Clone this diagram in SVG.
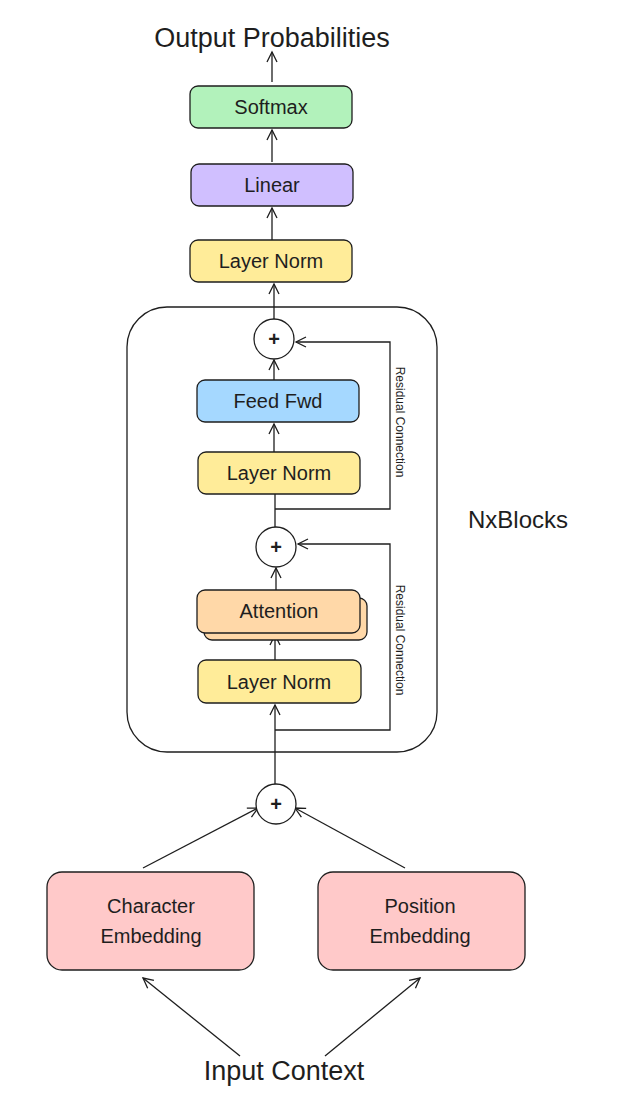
<svg xmlns="http://www.w3.org/2000/svg" width="627" height="1118" viewBox="0 0 627 1118">
<style>
.n{stroke:#1e1e1e;stroke-width:1.3}
.t{font-family:"Liberation Sans",sans-serif;font-size:20px;fill:#1e1e1e;text-anchor:middle;dominant-baseline:central}
.big{font-size:27px}
.mid{font-size:24px}
.c{stroke:#1e1e1e;stroke-width:1.3;fill:none}
.a{marker-end:url(#ah)}
.s{font-family:"Liberation Sans",sans-serif;font-size:12px;fill:#1e1e1e;text-anchor:middle;dominant-baseline:central}
</style>
<defs><marker id="ah" markerWidth="14" markerHeight="14" refX="11" refY="7" orient="auto" markerUnits="userSpaceOnUse"><path d="M1,2 L11,7 L1,12" fill="none" stroke="#1e1e1e" stroke-width="1.3"/></marker></defs>
<rect width="627" height="1118" fill="#fff"/>
<g id="container"><rect x="127" y="307" width="310" height="445" rx="40" fill="none" class="n"/></g>
<g id="connectors">
<line class="c a" x1="272" y1="82" x2="272" y2="52"/>
<line class="c a" x1="272" y1="162" x2="272" y2="130"/>
<line class="c a" x1="272" y1="240" x2="272" y2="208"/>
<line class="c a" x1="274" y1="319" x2="274" y2="284"/>
<line class="c a" x1="274" y1="380" x2="274" y2="360"/>
<line class="c a" x1="274" y1="452" x2="274" y2="424"/>
<line class="c" x1="275" y1="494" x2="275" y2="527"/>
<polyline class="c a" points="275,509 390,509 390,342 296,342"/>
<line class="c a" x1="276" y1="590" x2="276" y2="568"/>
<line class="c a" x1="275" y1="660" x2="275" y2="635"/>
<line class="c a" x1="275" y1="784" x2="275" y2="705"/>
<polyline class="c a" points="275,730 390,730 390,544 298,544"/>
<line class="c a" x1="143" y1="868" x2="258" y2="808"/>
<line class="c a" x1="405" y1="868" x2="295" y2="808"/>
<line class="c a" x1="240" y1="1056" x2="143" y2="978"/>
<line class="c a" x1="325" y1="1056" x2="420" y2="978"/>
</g>
<g id="title"><text class="t big" x="272" y="38">Output Probabilities</text></g>
<g id="softmax"><rect class="n" x="190" y="86" width="162" height="42" rx="8" fill="#b2f2bb"/><text class="t" x="271" y="107">Softmax</text></g>
<g id="linear"><rect class="n" x="191" y="164" width="162" height="42" rx="8" fill="#d0bfff"/><text class="t" x="272" y="185">Linear</text></g>
<g id="ln-top"><rect class="n" x="190" y="240" width="162" height="42" rx="8" fill="#ffec99"/><text class="t" x="271" y="261">Layer Norm</text></g>
<g id="plus1"><circle class="n" cx="274" cy="339" r="20" fill="#fff"/><text class="t" x="274" y="339" font-weight="bold">+</text></g>
<g id="ffwd"><rect class="n" x="197" y="380" width="162" height="42" rx="8" fill="#a5d8ff"/><text class="t" x="278" y="401">Feed Fwd</text></g>
<g id="ln2"><rect class="n" x="198" y="452" width="162" height="42" rx="8" fill="#ffec99"/><text class="t" x="279" y="473">Layer Norm</text></g>
<g id="plus2"><circle class="n" cx="276" cy="547" r="20" fill="#fff"/><text class="t" x="276" y="547" font-weight="bold">+</text></g>
<g id="attention"><rect class="n" x="204" y="598" width="163" height="42" rx="8" fill="#ffd8a8"/><rect class="n" x="197" y="590" width="163" height="43" rx="8" fill="#ffd8a8"/><text class="t" x="279" y="611">Attention</text></g>
<g id="ln1"><rect class="n" x="198" y="660" width="163" height="43" rx="8" fill="#ffec99"/><text class="t" x="279" y="682">Layer Norm</text></g>
<g id="res1"><text class="s" transform="translate(400,422) rotate(90)">Residual Connection</text></g>
<g id="res2"><text class="s" transform="translate(400,640) rotate(90)">Residual Connection</text></g>
<g id="nx"><text class="t mid" x="518" y="519">NxBlocks</text></g>
<g id="plus3"><circle class="n" cx="276" cy="804" r="20" fill="#fff"/><text class="t" x="276" y="804" font-weight="bold">+</text></g>
<g id="charemb"><rect class="n" x="47" y="872" width="207" height="98" rx="15" fill="#ffc9c9"/><text class="t" x="151" y="906">Character</text><text class="t" x="151" y="936">Embedding</text></g>
<g id="posemb"><rect class="n" x="318" y="872" width="207" height="98" rx="15" fill="#ffc9c9"/><text class="t" x="420" y="906">Position</text><text class="t" x="420" y="936">Embedding</text></g>
<g id="input"><text class="t big" x="284" y="1071">Input Context</text></g>
</svg>
